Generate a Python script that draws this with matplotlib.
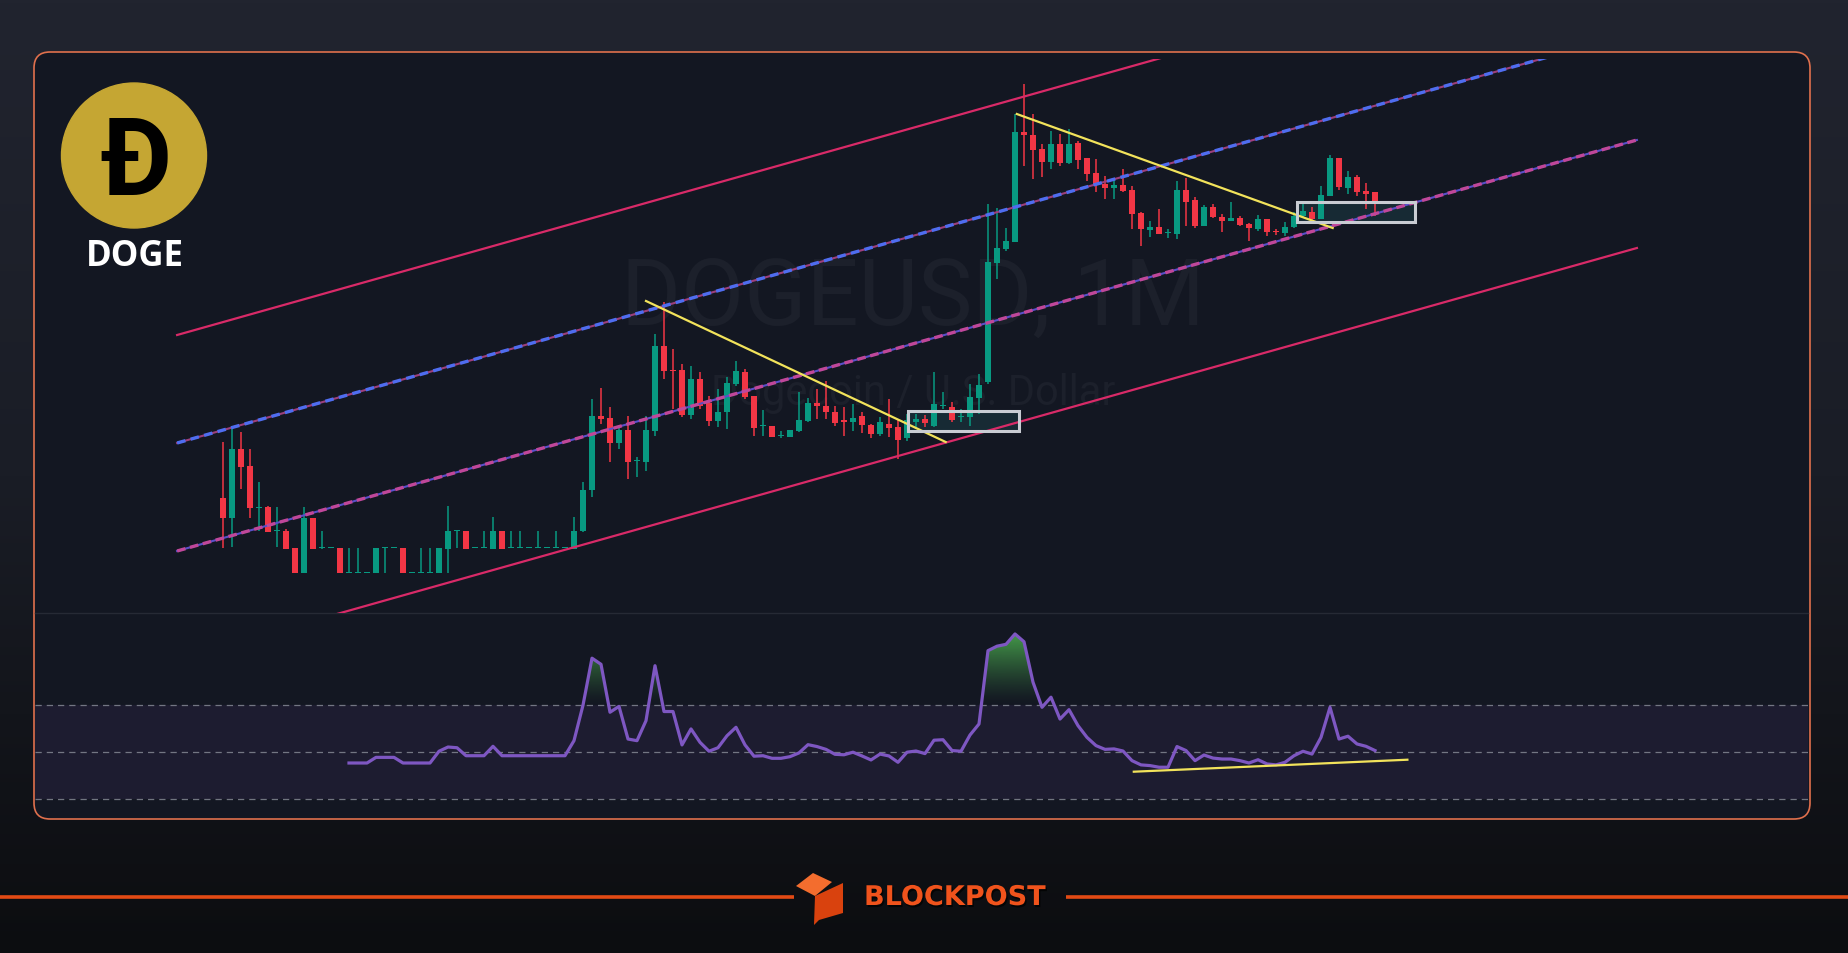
import numpy as np
import matplotlib.pyplot as plt
import matplotlib.patheffects as pe
from matplotlib.colors import LinearSegmentedColormap, to_rgb
from matplotlib.patches import FancyBboxPatch, Circle, Polygon, Rectangle
from matplotlib.path import Path

# ==[0] Data (monthly candles, price in chart units)
#
opens = [455, 435, 504, 487, 445, 446, 422, 422, 405, 380, 435, 405, 405, 405, 380, 380, 380, 380, 405, 405,
         405, 380, 380, 380, 380, 404, 422, 422, 405, 405, 404, 422, 405, 405, 405, 405, 405, 405, 405, 404,
         422, 463, 537, 535, 510, 523, 492, 491, 522, 607, 583, 583, 538, 574, 550, 532, 541, 569, 581, 557,
         527, 527, 517, 516, 522, 532, 550, 547, 541, 533, 531, 537, 528, 519, 529, 526, 515, 531, 534, 527,
         547, 546, 536, 536, 555, 571, 690, 704, 711, 821, 818, 804, 791, 809, 790, 810, 795, 780, 769, 765,
         768, 763, 740, 723, 726, 720, 719, 763, 753, 727, 746, 736, 732, 735, 729, 724, 734, 722, 720, 726,
         737, 741, 734, 757, 795, 765, 776, 762, 761]
highs = [511, 524, 521, 504, 471, 447, 446, 424, 405, 446, 435, 422, 405, 405, 405, 405, 380, 405, 405, 405,
         405, 380, 405, 405, 405, 447, 422, 422, 405, 422, 436, 422, 422, 422, 405, 422, 405, 422, 405, 436,
         471, 554, 565, 546, 527, 537, 496, 537, 619, 651, 604, 589, 587, 581, 557, 564, 576, 592, 584, 557,
         543, 527, 522, 523, 561, 555, 564, 572, 547, 546, 549, 541, 529, 536, 554, 534, 539, 539, 538, 581,
         561, 551, 544, 569, 579, 749, 745, 725, 839, 869, 839, 809, 822, 819, 824, 812, 795, 794, 777, 774,
         784, 767, 741, 732, 744, 724, 772, 775, 756, 748, 749, 739, 751, 737, 730, 738, 734, 724, 731, 741,
         752, 746, 767, 798, 795, 782, 778, 770, 761]
lows = [405, 406, 464, 435, 422, 421, 406, 404, 380, 380, 404, 404, 405, 380, 380, 380, 380, 380, 380, 405,
        380, 380, 380, 380, 380, 380, 405, 404, 405, 405, 404, 404, 405, 405, 405, 405, 405, 405, 405, 404,
        421, 456, 529, 491, 504, 474, 476, 482, 517, 574, 544, 536, 534, 544, 527, 526, 524, 567, 554, 517,
        517, 516, 515, 516, 521, 531, 534, 534, 527, 517, 522, 520, 515, 517, 516, 494, 512, 526, 526, 526,
        544, 531, 531, 527, 539, 569, 674, 702, 711, 787, 774, 776, 784, 787, 789, 784, 772, 761, 754, 754,
        761, 724, 707, 716, 719, 715, 714, 727, 725, 727, 735, 721, 732, 727, 712, 722, 717, 718, 717, 725,
        736, 732, 734, 757, 763, 759, 757, 744, 737]
closes = [435, 504, 486, 445, 446, 421, 422, 404, 380, 435, 404, 405, 405, 380, 380, 380, 380, 405, 405, 405,
          380, 380, 380, 380, 405, 422, 422, 404, 405, 405, 422, 404, 405, 405, 405, 405, 405, 405, 405, 422,
          463, 537, 534, 510, 523, 491, 492, 523, 607, 582, 582, 538, 574, 547, 532, 541, 570, 582, 556, 525,
          527, 516, 517, 523, 533, 550, 547, 541, 530, 531, 535, 528, 519, 531, 525, 513, 533, 534, 530, 549,
          547, 533, 536, 556, 568, 691, 705, 712, 821, 818, 803, 791, 809, 790, 809, 793, 779, 768, 765, 768,
          762, 739, 724, 726, 719, 720, 763, 751, 727, 746, 736, 732, 735, 728, 725, 734, 721, 721, 726, 737,
          742, 734, 758, 795, 766, 776, 761, 759, 750]

# RSI, starting at candle 14
rsi_start = 14
rsi = [45.3, 45.3, 45.3, 47.7, 47.7, 47.7, 45.3, 45.3, 45.3, 45.3, 50.3, 52.1, 51.8, 48.4, 48.4, 48.4, 52.4,
       48.4, 48.4, 48.4, 48.4, 48.4, 48.4, 48.4, 48.4, 54.8, 69.9, 89.9, 87.3, 66.9, 69.4, 55.5, 54.8, 63.3,
       86.7, 67.2, 67.2, 53.0, 59.8, 54.1, 50.3, 51.8, 56.9, 60.5, 53.0, 48.2, 48.4, 47.3, 47.3, 48.0, 49.6,
       53.1, 52.3, 51.1, 49.0, 48.8, 49.9, 48.3, 46.6, 49.1, 48.3, 45.6, 49.9, 50.4, 49.3, 55.0, 55.2, 50.6,
       50.3, 57.2, 61.9, 93.1, 95.0, 95.8, 100.2, 96.9, 79.7, 69.0, 73.3, 64.0, 68.0, 61.2, 56.2, 52.7, 51.1,
       51.3, 50.4, 46.3, 44.5, 44.2, 43.5, 43.5, 52.3, 50.6, 46.3, 48.7, 47.4, 47.0, 47.0, 46.3, 45.3, 46.7,
       44.9, 44.5, 45.6, 48.4, 50.3, 49.1, 56.2, 69.0, 55.5, 56.7, 53.4, 52.4, 50.6]
rsi_levels = [70, 50, 30]

# Parallel channel (x in candles): top, upper mid, lower mid, bottom
channel_x = [-5.1, 157.1]
channel_start = [618, 510, 402, 294]
channel_end = [1029, 921, 813, 705]

# Yellow trendlines
trend_price = [([47.0, 80.3], [652, 511]), ([88.2, 123.3], [839, 725])]
trend_rsi = ([101.2, 131.6], [41.6, 46.7])

# Consolidation boxes: (x0, x1, low, high)
boxes = [(76.1, 88.4, 522, 542), (119.3, 132.4, 731, 751)]

W, H = 1848, 954
GREEN = '#089981'
RED = '#f23645'

fig = plt.figure(figsize=(W / 100, H / 100), dpi=100)

# ==[1] Background, panel, branding (pixel coordinates)
#
bg = fig.add_axes([0, 0, 1, 1])
bg.axis('off')
cmap_bg = LinearSegmentedColormap.from_list('bg', ['#21242f', '#1a1d26', '#0c0d10'])
bg.imshow(np.linspace(0, 1, 256).reshape(-1, 1), extent=[0, W, H, 0], cmap=cmap_bg, aspect='auto', zorder=0)
bg.set_xlim(0, W)
bg.set_ylim(H, 0)

bg.add_patch(FancyBboxPatch((34, 53), 1776, 767, boxstyle='round,pad=0,rounding_size=16',
                            fc='#131722', ec='#e0704d', lw=1.2, zorder=1))
bg.plot([35, 1808], [614, 614], color='#262a35', lw=1, zorder=2)

bg.text(913, 325, 'DOGEUSD, 1M', family='Roboto', fontsize=66, color='#1c202b',
        ha='center', va='baseline', zorder=2)
bg.text(913, 405, 'Dogecoin / U.S. Dollar', family='Roboto', fontsize=30, color='#1c202b',
        ha='center', va='baseline', zorder=2)

bg.add_patch(Circle((134, 156.5), 72.5, color='#c5a633', zorder=3))
bg.text(136, 195, 'Ð', family='Roboto', fontweight='bold', fontsize=77, color='black',
        ha='center', va='baseline', zorder=4)
bg.text(135, 266, 'DOGE', family='Open Sans', fontweight='bold', fontsize=25, color='white',
        ha='center', va='baseline', zorder=4)

# footer
bg.plot([0, 794], [898, 898], color='#e24a14', lw=2.6, solid_capstyle='butt', zorder=2)
bg.plot([1066, W], [898, 898], color='#e24a14', lw=2.6, solid_capstyle='butt', zorder=2)
bg.add_patch(Polygon([(796, 887), (813, 874), (832, 883), (815, 897)], closed=True, fc='#f36d2e', zorder=3))
bg.add_patch(Polygon([(815, 897), (843, 884), (843, 914), (819, 921), (814, 926)], closed=True,
                     fc='#d9420e', zorder=3))
bg.text(955, 906, 'BLOCKPOST', family='DejaVu Sans', fontweight='bold', fontsize=19.5, color='#f0531c',
        ha='center', va='baseline', zorder=3,
        path_effects=[pe.SimplePatchShadow(offset=(1, -1.5), shadow_rgbFace='black', alpha=0.7), pe.Normal()])

# ==[2] Price pane
#
ax = fig.add_axes([35 / W, 1 - 614 / H, 1773 / W, 554 / H])
ax.patch.set_alpha(0)
ax.axis('off')
ax.set_xlim((35 - 223) / 9, (1808 - 223) / 9)
ax.set_ylim(340, 894)

o = np.array(opens, float)
c = np.array(closes, float)
idx = np.arange(len(o))
cols = np.where(c >= o, GREEN, RED)
ax.vlines(idx, lows, highs, colors=cols, lw=1.1, zorder=3)
ax.bar(idx, np.maximum(np.abs(c - o), 1.0), bottom=np.minimum(o, c), width=0.76, color=cols,
       lw=0, zorder=4)

for k, (v0, v1) in enumerate(zip(channel_start, channel_end)):
    if k in (0, 3):
        ax.plot(channel_x, [v0, v1], color='#d92a68', lw=1.6, zorder=5)
    elif k == 1:
        ax.plot(channel_x, [v0, v1], color='#9c3f7c', lw=1.5, zorder=5)
        ax.plot(channel_x, [v0, v1], color='#4f6df0', lw=2.4, ls=(0, (2.6, 1.6)), zorder=5)
    else:
        ax.plot(channel_x, [v0, v1], color='#5a4fc8', lw=1.5, zorder=5)
        ax.plot(channel_x, [v0, v1], color='#c0479a', lw=2.4, ls=(0, (2.6, 1.4)), zorder=5)

for xs, ys in trend_price:
    ax.plot(xs, ys, color='#f2e35b', lw=1.6, zorder=6)

for x0, x1, lo, hi in boxes:
    ax.add_patch(Rectangle((x0, lo), x1 - x0, hi - lo, fc='#1b3a44', alpha=0.55, lw=0, zorder=2))
    ax.add_patch(Rectangle((x0, lo), x1 - x0, hi - lo, fill=False, ec='#c9ccd3', lw=2.2, zorder=6))

# ==[3] RSI pane
#
ar = fig.add_axes([35 / W, 1 - 819 / H, 1773 / W, 204 / H])
ar.patch.set_alpha(0)
ar.axis('off')

ar.axhspan(rsi_levels[2], rsi_levels[0], color='#1d1c30', lw=0, zorder=1)
for lv in rsi_levels:
    ar.axhline(lv, color='#8a8d99', lw=0.9, ls=(0, (5, 4)), alpha=0.8, zorder=2)

rx = np.arange(rsi_start, rsi_start + len(rsi))
ry = np.array(rsi)
fill = ar.fill_between(rx, rsi_levels[0], ry, where=ry > rsi_levels[0], interpolate=True, alpha=0)
clip = Path.make_compound_path(*fill.get_paths())
g = np.zeros((256, 1, 4))
g[:, 0, :3] = to_rgb('#4caf50')
g[:, 0, 3] = np.linspace(0, 0.95, 256) ** 1.3
im = ar.imshow(g, extent=[rx[0], rx[-1], rsi_levels[0], 102], origin='lower', aspect='auto', zorder=3)
im.set_clip_path(clip, transform=ar.transData)
ar.set_xlim(ax.get_xlim())
ar.set_ylim(21.9, 108.7)

ar.plot(rx, ry, color='#7e57c2', lw=2.3, zorder=4)
ar.plot(trend_rsi[0], trend_rsi[1], color='#f2e35b', lw=1.6, zorder=5)

fig.savefig('out.png', dpi=100, facecolor='#1a1d26')
